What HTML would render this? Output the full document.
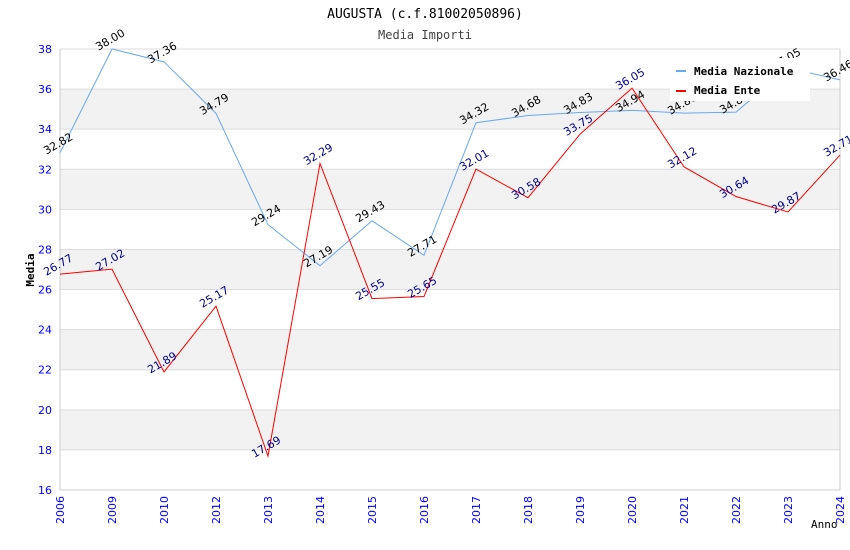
<!DOCTYPE html>
<html><head><meta charset="utf-8"><style>
body{margin:0;background:#fff;}
svg{display:block;font-family:"DejaVu Sans Mono","Liberation Mono",monospace;}
.s{font-family:"DejaVu Sans","Liberation Sans",sans-serif;}
</style></head><body>
<svg id="c" width="850" height="550">
<text x="425" y="18" text-anchor="middle" font-size="13" fill="#000">AUGUSTA (c.f.81002050896)</text>
<text x="425" y="39" text-anchor="middle" font-size="12" fill="#444">Media Importi</text>
<g id="grid"></g><g id="axes"></g><g id="lines"></g><g id="labels"></g>
<text x="34" y="270" transform="rotate(-90 34 270)" text-anchor="middle" font-size="11" font-weight="bold">Media</text>
<text x="811" y="528" font-size="11">Anno</text>
<g id="legend">
<rect x="670" y="58" width="140" height="43" fill="#fff"/>
<rect x="676" y="70" width="10" height="2" fill="#6aa8ef"/>
<text x="694" y="75" font-size="11" font-weight="bold">Media Nazionale</text>
<rect x="676" y="90" width="10" height="2" fill="#ff0000"/>
<text x="694" y="94" font-size="11" font-weight="bold">Media Ente</text>
</g>
</svg>
<script>
const categories=["2006","2009","2010","2012","2013","2014","2015","2016","2017","2018","2019","2020","2021","2022","2023","2024"];
const nazionale=[32.82,38.00,37.36,34.79,29.24,27.19,29.43,27.71,34.32,34.68,34.83,34.94,34.80,34.85,37.05,36.46];
const ente=[26.77,27.02,21.89,25.17,17.69,32.29,25.55,25.65,32.01,30.58,33.75,36.05,32.12,30.64,29.87,32.71];
const yTicks=[16,18,20,22,24,26,28,30,32,34,36,38];
const L=60,R=840,T=49,B=490,yMin=16,yMax=38;
const xs=i=>L+i*(R-L)/(categories.length-1);
const ys=v=>B-(v-yMin)/(yMax-yMin)*(B-T);
const NS="http://www.w3.org/2000/svg";
function mk(p,t,a){const e=document.createElementNS(NS,t);for(const k in a)e.setAttribute(k,a[k]);p.appendChild(e);return e;}
const grid=document.getElementById('grid'),axes=document.getElementById('axes'),lines=document.getElementById('lines'),labels=document.getElementById('labels');
for(let i=0;i<yTicks.length-1;i++){
 if(yTicks[i]%4==2){
  const r=mk(grid,'rect',{x:L,y:ys(yTicks[i+1]),width:R-L,height:ys(yTicks[i])-ys(yTicks[i+1]),fill:'#f2f2f2'});
  
  
 }
}
for(const v of yTicks){
 mk(grid,'line',{x1:L,x2:R,y1:ys(v),y2:ys(v),stroke:'#ddd'});
 const t=mk(axes,'text',{x:L-8,y:ys(v)+4,'text-anchor':'end','font-size':11,fill:'#0000ff',class:'s'});t.textContent=v;
 
 
}
mk(axes,'line',{x1:L,x2:L,y1:T,y2:B,stroke:'#ccc'});
mk(axes,'line',{x1:R,x2:R,y1:T,y2:B,stroke:'#ccc'});
mk(axes,'line',{x1:L,x2:R,y1:B,y2:B,stroke:'#ccc'});
categories.forEach((c,i)=>{
 const x=xs(i)+4,y=B+6;
 const t=mk(axes,'text',{x:x,y:y,transform:`rotate(-90 ${x} ${y})`,'text-anchor':'end','font-size':11,fill:'#0000ff',class:'s'});t.textContent=c;
 
 
});
function series(arr,color,lc,name){
 const p=mk(lines,'polyline',{points:arr.map((v,i)=>xs(i)+','+ys(v)).join(' '),fill:'none',stroke:color,'stroke-width':1});
 
 
 arr.forEach((v,i)=>{const x=xs(i),y=ys(v)-6;
  const t=mk(labels,'text',{x:x,y:y,transform:`rotate(-30 ${x} ${y})`,'text-anchor':'middle','font-size':11,fill:lc,class:'s'});t.textContent=v.toFixed(2);
  
  
 });
}
series(nazionale,'#6aa8ef','#000','line-media-nazionale');
series(ente,'#ff0000','#00008b','line-media-ente');
document.getElementById('c').appendChild(document.getElementById('legend'));
</script>
</body></html>
